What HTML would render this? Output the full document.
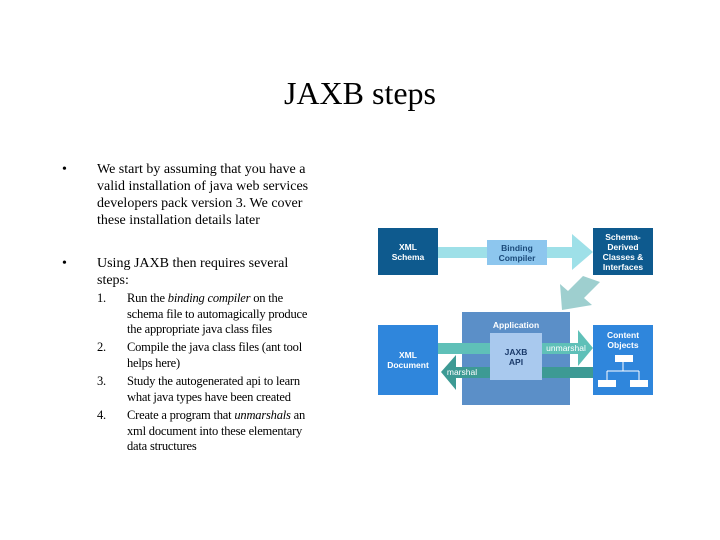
<!DOCTYPE html>
<html><head><style>
body{margin:0;width:720px;height:540px;background:#fff;position:relative;overflow:hidden;font-family:"Liberation Serif",serif;}
.a{position:absolute;white-space:nowrap;}
.t{font-size:14px;line-height:17px;color:#000;}
.s{font-size:12.5px;line-height:15.5px;color:#000;letter-spacing:-0.2px;}
.d{font-family:"Liberation Sans",sans-serif;font-weight:bold;font-size:8.5px;color:#fff;text-align:center;line-height:10px;display:flex;align-items:center;justify-content:center;}
</style></head><body>
<div class="a" style="left:0;width:720px;top:75px;text-align:center;font-size:32px;">JAXB steps</div>
<div class="a t" style="left:62px;top:161px;">•</div>
<div class="a t" style="left:97px;top:161px;">We start by assuming that you have a<br>valid installation of java web services<br>developers pack version 3. We cover<br>these installation details later</div>
<div class="a t" style="left:62px;top:255px;">•</div>
<div class="a t" style="left:97px;top:255px;">Using JAXB then requires several<br>steps:</div>
<div class="a s" style="left:97px;top:291px;">1.</div>
<div class="a s" style="left:127px;top:291px;">Run the <i>binding compiler</i> on the<br>schema file to automagically produce<br>the appropriate java class files</div>
<div class="a s" style="left:97px;top:340px;">2.</div>
<div class="a s" style="left:127px;top:340px;">Compile the java class files (ant tool<br>helps here)</div>
<div class="a s" style="left:97px;top:374px;">3.</div>
<div class="a s" style="left:127px;top:374px;">Study the autogenerated api to learn<br>what java types have been created</div>
<div class="a s" style="left:97px;top:408px;">4.</div>
<div class="a s" style="left:127px;top:408px;">Create a program that <i>unmarshals</i> an<br>xml document into these elementary<br>data structures</div>

<svg class="a" style="left:0;top:0" width="720" height="540">
<rect x="438" y="247" width="140" height="11" fill="#9ee0e8"/>
<polygon points="572,234 593,252 572,270" fill="#9ee0e8"/>
<polygon points="583,276 600,282 584,298 592,305 562,310 560,284 568,291" fill="#9ecfcf"/>
<rect x="462" y="312" width="108" height="93" fill="#5b8fc8"/>
<rect x="438" y="343" width="142" height="11" fill="#5fc0b8"/>
<polygon points="578,330 593,348 578,366" fill="#5fc0b8"/>
<rect x="455" y="367" width="138" height="11" fill="#3d9a94"/>
<polygon points="456,355 441,372 456,390" fill="#3d9a94"/>
<rect x="490" y="333" width="52" height="47" fill="#a9c9ee"/>
<rect x="378" y="228" width="60" height="47" fill="#0e5a8e"/>
<rect x="487" y="240" width="60" height="25" fill="#8dc6ee"/>
<rect x="593" y="228" width="60" height="47" fill="#0e5a8e"/>
<rect x="378" y="325" width="60" height="70" fill="#2f86dc"/>
<rect x="593" y="325" width="60" height="70" fill="#2f86dc"/>
<rect x="615" y="355" width="18" height="7" fill="#fff"/>
<line x1="623" y1="362" x2="623" y2="371" stroke="#fff"/>
<line x1="607" y1="371" x2="639" y2="371" stroke="#fff"/>
<line x1="607" y1="371" x2="607" y2="380" stroke="#fff"/><line x1="639" y1="371" x2="639" y2="380" stroke="#fff"/>
<rect x="598" y="380" width="18" height="7" fill="#fff"/>
<rect x="630" y="380" width="18" height="7" fill="#fff"/>
</svg>
<div class="a d" style="left:378px;top:228px;width:60px;height:47px;">XML<br>Schema</div>
<div class="a d" style="left:487px;top:240px;width:60px;height:25px;color:#1a4a7a;">Binding<br>Compiler</div>
<div class="a d" style="left:593px;top:228px;width:60px;height:47px;">Schema-<br>Derived<br>Classes &amp;<br>Interfaces</div>
<div class="a d" style="left:462px;top:320px;width:108px;">Application</div>
<div class="a d" style="left:490px;top:333px;width:52px;height:47px;color:#1a3a6a;">JAXB<br>API</div>
<div class="a d" style="left:378px;top:325px;width:60px;height:70px;">XML<br>Document</div>
<div class="a d" style="left:593px;top:330px;width:60px;display:block;">Content<br>Objects</div>
<div class="a d" style="left:543px;top:343px;width:46px;font-weight:normal;">unmarshal</div>
<div class="a d" style="left:442px;top:367px;width:40px;font-weight:normal;">marshal</div>
</body></html>
